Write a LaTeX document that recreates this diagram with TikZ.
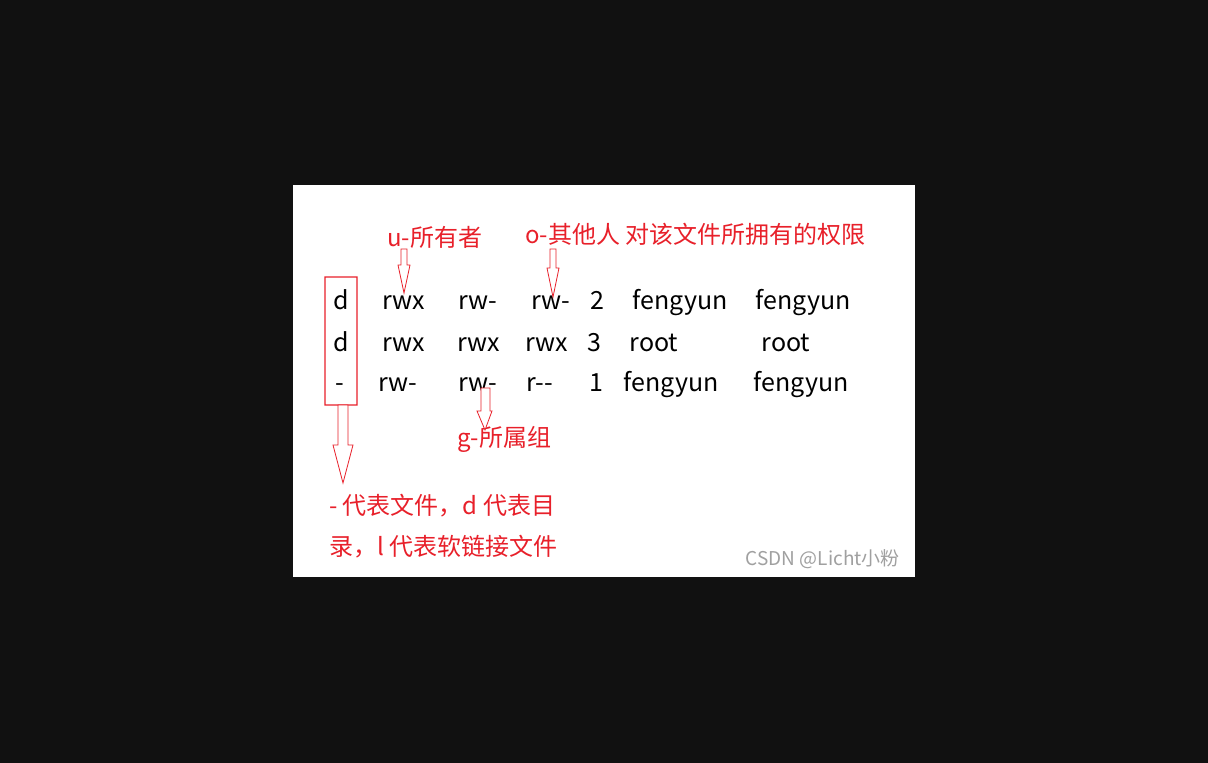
\documentclass[tikz,border=0pt]{standalone}
\usepackage{fontspec}
\setmainfont{Noto Sans CJK SC}
\definecolor{bgdark}{HTML}{111111}
\definecolor{markred}{HTML}{E8202A}
\definecolor{wmgray}{HTML}{A0A0A0}
\begin{document}
\begin{tikzpicture}[x=1pt,y=-1pt,
  cell/.style={inner sep=0pt,anchor=base,font=\fontsize{25}{28}\selectfont,text=black},
  note/.style={inner sep=0pt,anchor=base west,font=\fontsize{24}{28}\selectfont,text=markred},
  blockarrow/.style={draw=markred,line width=0.8pt,fill=white,line join=miter}]
\useasboundingbox (0,0) rectangle (1208,763);
\fill[bgdark] (0,0) rectangle (1208,763);
\fill[white] (293,185) rectangle (915,577);
% box around first column (frame as filled ring)
\fill[markred,even odd rule] (324.4,276.4) rectangle (357.6,405.6) (325.6,277.6) rectangle (356.4,404.4);
% row 1
\node[cell] (a1) at (341,309) {d};
\node[cell] (b1) at (404,309) {rwx};
\node[cell] (c1) at (478,309) {rw-};
\node[cell] (d1) at (551,309) {rw-};
\node[cell] (e1) at (597,309) {2};
\node[cell] (f1) at (680,309) {fengyun};
\node[cell] (g1) at (803,309) {fengyun};
% row 2
\node[cell] (a2) at (341,351) {d};
\node[cell] (b2) at (404,351) {rwx};
\node[cell] (c2) at (479,351) {rwx};
\node[cell] (d2) at (547,351) {rwx};
\node[cell] (e2) at (594,351) {3};
\node[cell] (f2) at (654,351) {root};
\node[cell] (g2) at (786,351) {root};
% row 3
\node[cell] (a3) at (340,391) {-};
\node[cell] (b3) at (398,391) {rw-};
\node[cell] (c3) at (478,391) {rw-};
\node[cell] (d3) at (540,391) {r-{}-};
\node[cell] (e3) at (596,391) {1};
\node[cell] (f3) at (671,391) {fengyun};
\node[cell] (g3) at (801,391) {fengyun};
% labels
\node[note] (u) at (387,246) {u-所有者};
\node[note] (o) at (525,243) {o-其他人 对该文件所拥有的权限};
\node[note] (g) at (457,446) {g-所属组};
\node[note] (t1) at (329,514) {- 代表文件，d 代表目};
\node[note] (t2) at (329,555) {录，l 代表软链接文件};
\node[inner sep=0pt,anchor=base east,text=wmgray,font=\fontsize{19}{22}\selectfont] (wmk) at (900,565) {CSDN @Licht小粉};
% block arrows
\draw[blockarrow] (401,249) -- (407,249) -- (407,265) -- (410,265) -- (404,293) -- (398,265) -- (401,265) -- cycle;
\draw[blockarrow] (550,249) -- (556,249) -- (556,268) -- (559,268) -- (553,297) -- (547,268) -- (550,268) -- cycle;
\draw[blockarrow] (481,388) -- (490,388) -- (490,411) -- (492,411) -- (485,430) -- (477,411) -- (481,411) -- cycle;
\draw[blockarrow] (338,405) -- (348,405) -- (348,445) -- (353,445) -- (343,483) -- (333,445) -- (338,445) -- cycle;
\end{tikzpicture}
\end{document}
